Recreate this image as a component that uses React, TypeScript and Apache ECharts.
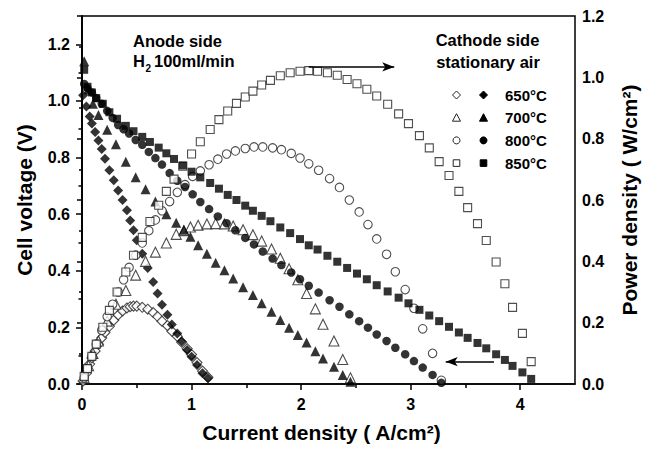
import React, { useEffect, useRef } from "react";
import * as echarts from "echarts";

// ---- data ----
const LEGEND_LABELS = ["650°C", "700°C", "800°C", "850°C"];

const CURRENT_650 = [0.01, 0.04, 0.07, 0.09, 0.12, 0.15, 0.18, 0.21, 0.25, 0.29, 0.33, 0.37, 0.41, 0.44, 0.47, 0.50, 0.55, 0.60, 0.65, 0.69, 0.73, 0.78, 0.82, 0.87, 0.91, 0.96, 1.00, 1.05, 1.10, 1.15];
const VOLT_650 = [1.02, 0.98, 0.945, 0.92, 0.89, 0.86, 0.83, 0.796, 0.755, 0.72, 0.684, 0.65, 0.614, 0.578, 0.543, 0.508, 0.46, 0.41, 0.36, 0.32, 0.28, 0.245, 0.21, 0.178, 0.15, 0.12, 0.096, 0.067, 0.038, 0.02];
const POWER_650 = [0.01, 0.035, 0.065, 0.085, 0.108, 0.13, 0.15, 0.168, 0.188, 0.208, 0.225, 0.238, 0.248, 0.252, 0.254, 0.254, 0.25, 0.244, 0.233, 0.22, 0.205, 0.19, 0.172, 0.155, 0.136, 0.115, 0.096, 0.07, 0.042, 0.022];

const CURRENT_700 = [0.02, 0.06, 0.10, 0.15, 0.23, 0.31, 0.40, 0.49, 0.58, 0.67, 0.77, 0.86, 0.93, 0.99, 1.06, 1.14, 1.22, 1.30, 1.38, 1.47, 1.56, 1.64, 1.73, 1.81, 1.89, 1.97, 2.05, 2.13, 2.20, 2.30, 2.38, 2.45];
const VOLT_700 = [1.14, 1.04, 0.99, 0.95, 0.898, 0.847, 0.785, 0.73, 0.688, 0.645, 0.60, 0.57, 0.545, 0.52, 0.49, 0.46, 0.428, 0.402, 0.373, 0.342, 0.314, 0.285, 0.255, 0.226, 0.199, 0.173, 0.147, 0.116, 0.09, 0.061, 0.032, 0.008];
const POWER_700 = [0.02, 0.06, 0.10, 0.14, 0.205, 0.26, 0.305, 0.355, 0.40, 0.43, 0.46, 0.488, 0.50, 0.512, 0.518, 0.522, 0.523, 0.522, 0.515, 0.503, 0.487, 0.466, 0.44, 0.41, 0.376, 0.34, 0.295, 0.245, 0.195, 0.14, 0.08, 0.02];

const CURRENT_800 = [0.02, 0.05, 0.09, 0.13, 0.18, 0.23, 0.28, 0.33, 0.38, 0.43, 0.49, 0.55, 0.61, 0.67, 0.73, 0.80, 0.87, 0.94, 1.01, 1.08, 1.16, 1.24, 1.32, 1.40, 1.49, 1.57, 1.65, 1.74, 1.82, 1.91, 1.99, 2.07, 2.16, 2.26, 2.35, 2.44, 2.53, 2.61, 2.69, 2.78, 2.86, 2.95, 3.03, 3.11, 3.20, 3.28];
const VOLT_800 = [1.06, 1.045, 1.03, 1.01, 0.99, 0.965, 0.94, 0.915, 0.90, 0.885, 0.862, 0.845, 0.82, 0.798, 0.775, 0.745, 0.718, 0.696, 0.67, 0.643, 0.618, 0.592, 0.568, 0.543, 0.516, 0.493, 0.468, 0.443, 0.42, 0.394, 0.37, 0.347, 0.323, 0.296, 0.273, 0.246, 0.222, 0.199, 0.175, 0.152, 0.128, 0.105, 0.081, 0.058, 0.032, 0.004];
const POWER_800 = [0.02, 0.05, 0.09, 0.13, 0.175, 0.22, 0.26, 0.30, 0.34, 0.38, 0.42, 0.46, 0.50, 0.535, 0.565, 0.595, 0.625, 0.65, 0.677, 0.695, 0.715, 0.733, 0.75, 0.76, 0.768, 0.773, 0.773, 0.77, 0.764, 0.752, 0.737, 0.718, 0.697, 0.67, 0.641, 0.60, 0.561, 0.52, 0.473, 0.423, 0.366, 0.308, 0.247, 0.18, 0.10, 0.012];

const CURRENT_850 = [0.02, 0.05, 0.09, 0.13, 0.19, 0.25, 0.32, 0.40, 0.47, 0.55, 0.62, 0.70, 0.77, 0.84, 0.92, 1.00, 1.08, 1.17, 1.25, 1.33, 1.41, 1.49, 1.56, 1.64, 1.72, 1.81, 1.90, 1.99, 2.07, 2.15, 2.24, 2.33, 2.42, 2.51, 2.60, 2.69, 2.79, 2.89, 2.98, 3.08, 3.17, 3.26, 3.35, 3.44, 3.52, 3.61, 3.69, 3.78, 3.86, 3.93, 4.02, 4.10];
const VOLT_850 = [1.11, 1.05, 1.03, 1.01, 0.99, 0.96, 0.937, 0.912, 0.893, 0.873, 0.855, 0.835, 0.815, 0.795, 0.772, 0.75, 0.73, 0.71, 0.69, 0.668, 0.65, 0.63, 0.612, 0.594, 0.575, 0.553, 0.533, 0.512, 0.49, 0.475, 0.453, 0.432, 0.41, 0.39, 0.37, 0.349, 0.327, 0.305, 0.285, 0.262, 0.242, 0.222, 0.202, 0.182, 0.163, 0.145, 0.126, 0.105, 0.085, 0.064, 0.041, 0.018];
const POWER_850 = [0.025, 0.05, 0.09, 0.13, 0.185, 0.24, 0.30, 0.365, 0.42, 0.478, 0.53, 0.583, 0.628, 0.668, 0.71, 0.75, 0.79, 0.83, 0.862, 0.89, 0.915, 0.936, 0.955, 0.975, 0.99, 1.005, 1.015, 1.02, 1.022, 1.02, 1.015, 1.007, 0.993, 0.979, 0.961, 0.939, 0.912, 0.881, 0.849, 0.81, 0.77, 0.725, 0.68, 0.628, 0.575, 0.523, 0.468, 0.398, 0.327, 0.25, 0.165, 0.073];

const X_TICKS = [0, 1, 2, 3, 4];
const X_MINOR = [0.5, 1.5, 2.5, 3.5];
const Y_LEFT_TICKS = [0, 0.2, 0.4, 0.6, 0.8, 1.0, 1.2];
const Y_LEFT_MINOR = [0.1, 0.3, 0.5, 0.7, 0.9, 1.1];

// annotation arrows (data coordinates)
const ARROW_POWER = [[2.07, 1.034], [2.85, 1.034]]; // right axis
const ARROW_VOLT = [[3.76, 0.079], [3.32, 0.079]]; // left axis

const FONT = '"Liberation Sans", Arial, Helvetica, sans-serif';
const SYMBOLS = ["diamond", "triangle", "circle", "rect"];
const SYMBOL_SIZES = [10, 10, 8.5, 8];

const zip = (a: number[], b: number[]) => a.map((v, i) => [v, b[i]]);

export default function App() {
  const ref = useRef<HTMLDivElement>(null);

  useEffect(() => {
    if (!ref.current) return;
    const chart = echarts.init(ref.current, undefined, { renderer: "svg" });

    const sets = [
      [CURRENT_650, VOLT_650, POWER_650],
      [CURRENT_700, VOLT_700, POWER_700],
      [CURRENT_800, VOLT_800, POWER_800],
      [CURRENT_850, VOLT_850, POWER_850],
    ];

    const arrowMarkLine = (pts: number[][]) => ({
      silent: true,
      symbol: ["none", "arrow"],
      symbolSize: [7, 12],
      label: { show: false },
      emphasis: { disabled: true },
      lineStyle: { color: "#000", width: 1.5, type: "solid" },
      data: [[{ coord: pts[0] }, { coord: pts[1] }]],
    });

    const series: any[] = [];
    sets.forEach(([cur, volt, pow], i) => {
      const open: any = {
        type: "scatter",
        name: LEGEND_LABELS[i] + " power",
        xAxisIndex: 0,
        yAxisIndex: 1,
        data: zip(cur, pow),
        symbol: SYMBOLS[i],
        symbolSize: SYMBOL_SIZES[i],
        itemStyle: { color: "#fff", borderColor: "#222", borderWidth: 1.1 },
        emphasis: { disabled: true },
      };
      const filled: any = {
        type: "scatter",
        name: LEGEND_LABELS[i],
        xAxisIndex: 0,
        yAxisIndex: 0,
        data: zip(cur, volt),
        symbol: SYMBOLS[i],
        symbolSize: SYMBOL_SIZES[i],
        itemStyle: { color: "#000" },
        emphasis: { disabled: true },
      };
      if (i === 3) open.markLine = arrowMarkLine(ARROW_POWER);
      if (i === 2) filled.markLine = arrowMarkLine(ARROW_VOLT);
      series.push(open, filled);
    });

    const labelStyle = { fontSize: 16, fontWeight: "bold", color: "#000", fontFamily: FONT };
    const nameStyle = { fontSize: 21, fontWeight: "bold", color: "#000", fontFamily: FONT };
    const axisLine = { show: true, lineStyle: { color: "#000", width: 1.5 } };

    // legend drawn as graphic glyphs
    const legendX0 = 456.5;
    const legendX1 = 483.5;
    const legendTextX = 505;
    const legendY0 = 95;
    const legendDy = 22.7;
    const glyph = (kind: number, cx: number, cy: number, filled: boolean) => {
      const style = filled
        ? { fill: "#000", stroke: "#000", lineWidth: 1 }
        : { fill: "#fff", stroke: "#222", lineWidth: 1 };
      const r = 4;
      if (kind === 0)
        return { type: "polygon", shape: { points: [[cx, cy - r], [cx + r, cy], [cx, cy + r], [cx - r, cy]] }, style };
      if (kind === 1)
        return { type: "polygon", shape: { points: [[cx, cy - r], [cx + r, cy + r - 0.5], [cx - r, cy + r - 0.5]] }, style };
      if (kind === 2) return { type: "circle", shape: { cx, cy, r: 3.5 }, style };
      return { type: "rect", shape: { x: cx - 3.3, y: cy - 3.3, width: 6.6, height: 6.6 }, style };
    };
    const graphic: any[] = [];
    LEGEND_LABELS.forEach((lab, i) => {
      const cy = legendY0 + i * legendDy;
      graphic.push(glyph(i, legendX0, cy, false));
      graphic.push(glyph(i, legendX1, cy, true));
      graphic.push({
        type: "text",
        x: legendTextX,
        y: cy,
        style: { text: lab, font: `bold 15px ${FONT}`, fill: "#000", textVerticalAlign: "middle", textAlign: "left" },
      });
    });
    const txt = (text: string, x: number, y: number, size: number, align = "left") => ({
      type: "text",
      x,
      y,
      style: { text, font: `bold ${size}px ${FONT}`, fill: "#000", textVerticalAlign: "middle", textAlign: align },
    });
    graphic.push(txt("Anode side", 133, 41, 16.5));
    graphic.push(txt("H", 133, 61, 16.5));
    graphic.push(txt("2", 145.5, 68, 10));
    graphic.push(txt("100ml/min", 154, 61, 16.5));
    graphic.push(txt("Cathode side", 487.5, 40, 16.5, "center"));
    graphic.push(txt("stationary air", 488, 61.5, 16.5, "center"));

    const option: any = {
      animation: false,
      backgroundColor: "#fff",
      grid: { left: 82, right: 79, top: 16, bottom: 67, show: true, borderColor: "#000", borderWidth: 1.5, backgroundColor: "transparent" },
      xAxis: [
        {
          type: "value",
          min: 0,
          max: 4.5,
          position: "bottom",
          axisLine,
          axisTick: { show: true, customValues: X_TICKS, length: 6, lineStyle: { color: "#000", width: 1.5 } },
          axisLabel: { ...labelStyle, customValues: X_TICKS, margin: 12, formatter: (v: number) => String(v) },
          splitLine: { show: false },
          name: "Current density ( A/cm²)",
          nameLocation: "middle",
          nameGap: 38,
          nameTextStyle: { ...nameStyle, padding: [0, 14, 0, 0] },
        },
        {
          type: "value",
          min: 0,
          max: 4.5,
          position: "bottom",
          axisLine: { show: false },
          axisTick: { show: true, customValues: X_MINOR, length: 4, lineStyle: { color: "#000", width: 1.5 } },
          axisLabel: { show: false },
          splitLine: { show: false },
        },
      ],
      yAxis: [
        {
          type: "value",
          min: 0,
          max: 1.3,
          position: "left",
          axisLine,
          axisTick: { show: true, customValues: Y_LEFT_TICKS, length: 6, lineStyle: { color: "#000", width: 1.5 } },
          axisLabel: { ...labelStyle, customValues: Y_LEFT_TICKS, margin: 12, formatter: (v: number) => v.toFixed(1) },
          splitLine: { show: false },
          name: "Cell voltage (V)",
          nameLocation: "middle",
          nameRotate: 90,
          nameGap: 47,
          nameTextStyle: nameStyle,
        },
        {
          type: "value",
          min: 0,
          max: 1.2,
          interval: 0.2,
          position: "right",
          axisLine,
          axisTick: { show: true, inside: true, length: 5, lineStyle: { color: "#000", width: 1.5 } },
          minorTick: { show: true, splitNumber: 2, length: 3, lineStyle: { color: "#000", width: 1.5 } },
          axisLabel: { ...labelStyle, margin: 7, formatter: (v: number) => v.toFixed(1) },
          splitLine: { show: false },
          minorSplitLine: { show: false },
          name: "Power density ( W/cm²)",
          nameLocation: "middle",
          nameRotate: 90,
          nameGap: 44,
          nameTextStyle: nameStyle,
        },
        {
          type: "value",
          min: 0,
          max: 1.3,
          position: "left",
          axisLine: { show: false },
          axisTick: { show: true, customValues: Y_LEFT_MINOR, length: 3.5, lineStyle: { color: "#000", width: 1.5 } },
          axisLabel: { show: false },
          splitLine: { show: false },
        },
      ],
      series,
      graphic,
    };

    chart.setOption(option);
    return () => chart.dispose();
  }, []);

  return <div ref={ref} style={{ position: "absolute", left: 0, top: 0, width: 654, height: 451 }} />;
}
